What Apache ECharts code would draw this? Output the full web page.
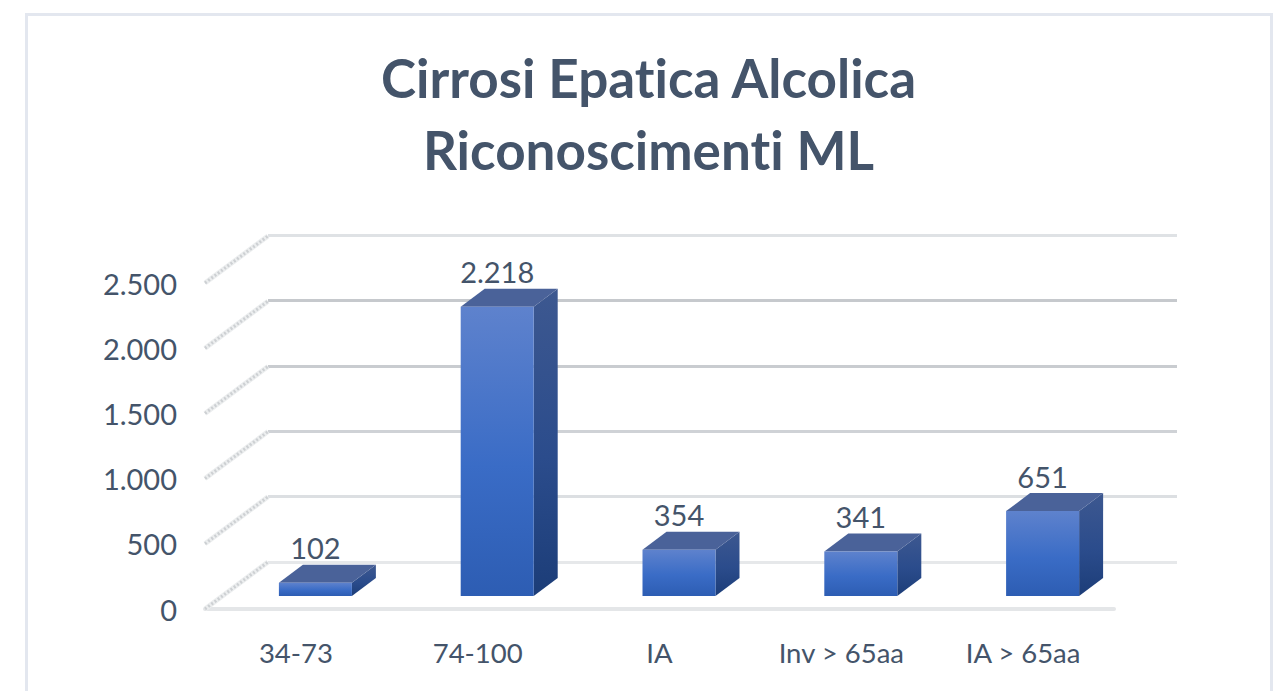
<!DOCTYPE html>
<html>
<head>
<meta charset="utf-8">
<style>html,body{margin:0;padding:0;background:#fff}#c{width:1284px;height:691px}
#c text{font-variant-ligatures:none;font-feature-settings:"liga" 0,"clig" 0}</style>
<script src="https://cdn.jsdelivr.net/npm/echarts@6/dist/echarts.min.js"></script>
</head>
<body>
<div id="c"></div>
<script>
const categories = ['34-73', '74-100', 'IA', 'Inv > 65aa', 'IA > 65aa'];
const values = [102, 2218, 354, 341, 651];
const yTicks = [0, 500, 1000, 1500, 2000, 2500];
const titleLines = ['Cirrosi Epatica Alcolica', 'Riconoscimenti ML'];

const FONT = 'Lato, Carlito, "Open Sans", sans-serif';
const TEXT = '#44546a';
const fmt = v => String(v).replace(/\B(?=(\d{3})+$)/g, '.');
const DX = 63, DY = 47;          // depth of the floor
const grad = (a, b, c) => new echarts.graphic.LinearGradient(0, 0, 0, 1,
  [{offset: 0, color: a}, {offset: .55, color: b}, {offset: 1, color: c}]);

const chart = echarts.init(document.getElementById('c'), null, {renderer: 'svg'});

function renderBar(params, api) {
  const i = api.value(0), v = api.value(1);
  const p = api.coord([i, 0]);
  const h = api.size([0, v])[1];
  const bw = 73, ox = 17, oy = 13, sx = 24, sy = 18;
  const x0 = p[0] - ox, yb = p[1] - oy, yt = yb - h, x1 = x0 + bw;
  return {
    type: 'group',
    children: [
      {type: 'polygon', shape: {points: [[x1, yt], [x1 + sx, yt - sy], [x1 + sx, yb - sy], [x1, yb]]},
        style: {fill: grad('#3d5890', '#2b4c8c', '#1c3d78')}},
      {type: 'polygon', shape: {points: [[x0, yt], [x0 + sx, yt - sy], [x1 + sx, yt - sy], [x1, yt]]},
        style: {fill: '#4a6299'}},
      {type: 'rect', shape: {x: x0, y: yt, width: bw, height: h},
        style: {fill: grad('#5e82cd', '#3a6cc6', '#2d5db3')}},
      {type: 'text', style: {x: x0 + bw / 2, y: yt - 35, text: fmt(v), fill: TEXT,
        font: '29px ' + FONT, textAlign: 'center', textVerticalAlign: 'middle'}}
    ]
  };
}

function renderSlant(params, api) {
  const y = api.coord([0, api.value(0)])[1];
  const x = params.coordSys.x;
  return {
    type: 'group',
    children: [
      {type: 'line', shape: {x1: x, y1: y, x2: x + DX, y2: y - DY},
        style: {stroke: '#eceeef', lineWidth: 5}},
      {type: 'line', shape: {x1: x, y1: y, x2: x + DX, y2: y - DY},
        style: {stroke: '#cdd0d3', lineWidth: 3, lineDash: [2, 2]}}
    ]
  };
}

chart.setOption({
  animation: false,
  backgroundColor: '#ffffff',
  graphic: [{type: 'rect', z: -1, shape: {x: 26.5, y: 14.5, width: 1245, height: 720},
    style: {fill: 'none', stroke: '#e3e7ef', lineWidth: 3}}],
  title: {
    text: titleLines.join('\n'), left: 643.5, top: 36, textAlign: 'center',
    textStyle: {fontFamily: FONT, fontWeight: 'bold', fontSize: 53, lineHeight: 72, color: TEXT}
  },
  grid: [
    {left: 205, right: 170, top: 283, bottom: 82},
    {left: 268, right: 107, top: 235, bottom: 129}
  ],
  xAxis: [
    {type: 'category', gridIndex: 0, data: categories,
      axisTick: {show: false},
      axisLine: {show: true, lineStyle: {color: '#e4e6e8', width: 4}},
      axisLabel: {fontFamily: FONT, fontSize: 27.5, color: TEXT, margin: 29}},
    {type: 'category', gridIndex: 1, data: categories, show: false}
  ],
  yAxis: [
    {type: 'value', gridIndex: 0, min: 0, max: 2500, interval: 500,
      axisLine: {show: false}, axisTick: {show: false}, splitLine: {show: false},
      axisLabel: {fontFamily: FONT, fontSize: 29, color: TEXT, margin: 28, padding: [6, 0, 0, 0], formatter: fmt}},
    {type: 'value', gridIndex: 1, min: 0, max: 2500, interval: 500,
      axisLine: {show: false}, axisTick: {show: false}, axisLabel: {show: false},
      splitLine: {show: true, lineStyle: {width: 3,
        color: ['#e6e8ea', '#dcdfe2', '#cfd2d6', '#c9ccd0', '#c6c9cd', '#dfe2e5']}}}
  ],
  series: [
    {type: 'custom', name: 'walls', xAxisIndex: 0, yAxisIndex: 0, z: 1, silent: true,
      clip: false, renderItem: renderSlant, data: yTicks.map(v => [v]), encode: {y: 0}},
    {type: 'custom', name: 'Riconoscimenti', xAxisIndex: 0, yAxisIndex: 0, z: 5, silent: true,
      clip: false, renderItem: renderBar,
      data: values.map((v, i) => [i, v]), encode: {x: 0, y: 1}}
  ]
});
</script>
</body>
</html>
